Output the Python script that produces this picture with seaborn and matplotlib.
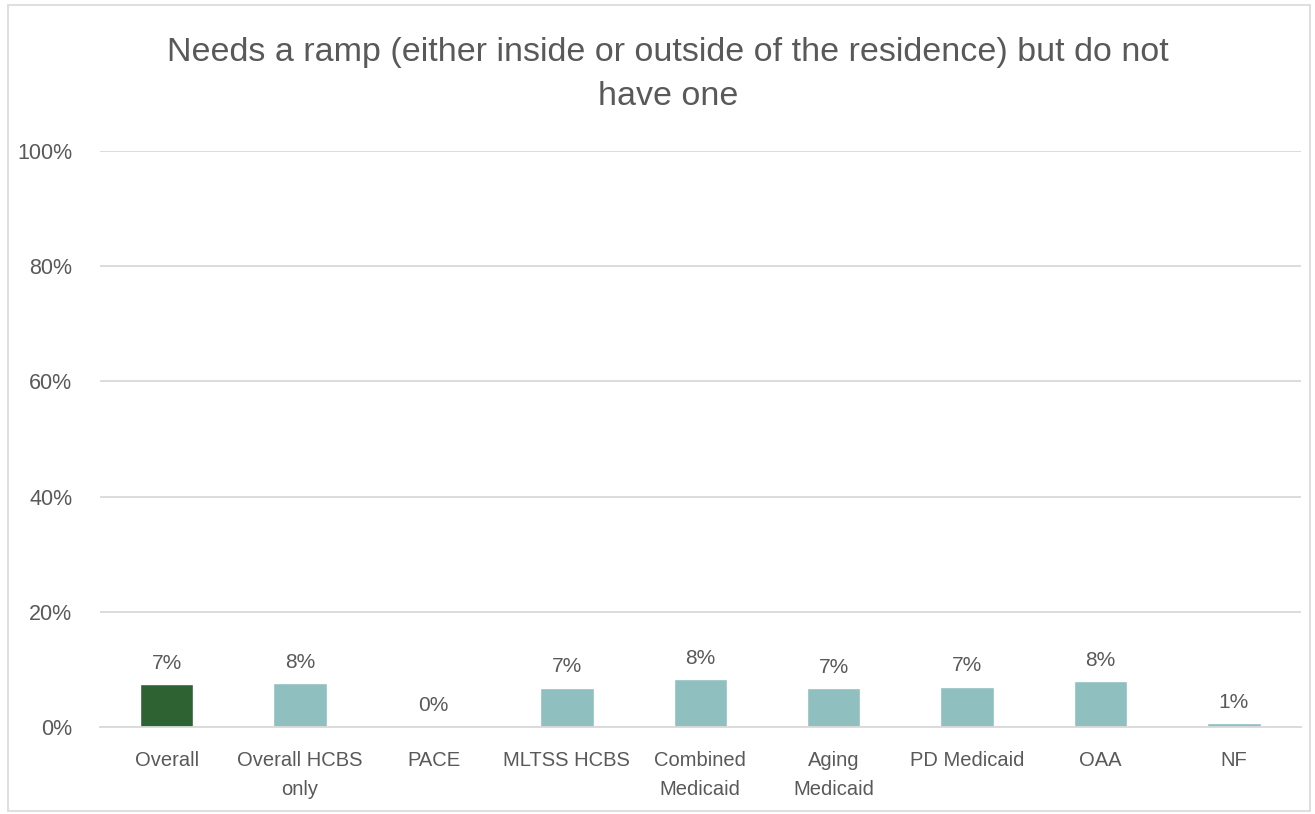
import matplotlib
matplotlib.use("Agg")
import matplotlib.pyplot as plt
import matplotlib.patches as patches
import seaborn as sns
import pandas as pd

# Data
categories = ["Overall", "Overall HCBS\nonly", "PACE", "MLTSS HCBS", "Combined\nMedicaid",
              "Aging\nMedicaid", "PD Medicaid", "OAA", "NF"]
values = [7.4, 7.6, 0.0, 6.8, 8.3, 6.7, 7.0, 7.9, 0.6]
colors = ["#2F6233"] + ["#8FBFBF"] * 8
y_ticks = [0, 20, 40, 60, 80, 100]
title = "Needs a ramp (either inside or outside of the residence) but do not\nhave one"

sns.set_theme(style="white")
plt.rcParams["font.family"] = ["Liberation Sans", "DejaVu Sans"]
text_color = "#595959"
grid_color = "#D9D9D9"

df = pd.DataFrame({"group": categories, "pct": values})

fig = plt.figure(figsize=(13.15, 8.14), dpi=100)
ax = fig.add_axes([0.076, 0.107, 0.913, 0.7075])

sns.barplot(data=df, x="group", y="pct", hue="group", palette=colors,
            legend=False, width=0.4, ax=ax, saturation=1)

ax.set_ylim(0, 100)
ax.set_yticks(y_ticks)
ax.set_yticklabels([f"{t}%" for t in y_ticks], fontsize=15.5, color=text_color)
ax.tick_params(axis="x", labelsize=14.5, colors=text_color, length=0, pad=17)
ax.tick_params(axis="y", length=0, pad=20)
for lab in ax.get_xticklabels():
    lab.set_color(text_color)
    lab.set_linespacing(1.7)
ax.set_xlabel("")
ax.set_ylabel("")
ax.yaxis.grid(True, color=grid_color, linewidth=1.3)
ax.set_axisbelow(True)
for side in ["left", "right", "top"]:
    ax.spines[side].set_visible(False)
ax.spines["bottom"].set_color(grid_color)
ax.spines["bottom"].set_linewidth(1.3)

# value labels
for i, v in enumerate(values):
    ax.text(i, v + 2.0, f"{v:.0f}%", ha="center", va="bottom", fontsize=15, color=text_color)

fig.text(0.508, 0.955, title, ha="center", va="top", fontsize=24.5, color=text_color,
         linespacing=1.55)

# outer chart border
fig.patches.append(patches.Rectangle((0.006, 0.004), 0.99, 0.99, transform=fig.transFigure,
                                     fill=False, edgecolor=grid_color, linewidth=1.2))

fig.savefig("out.png", dpi=100)
